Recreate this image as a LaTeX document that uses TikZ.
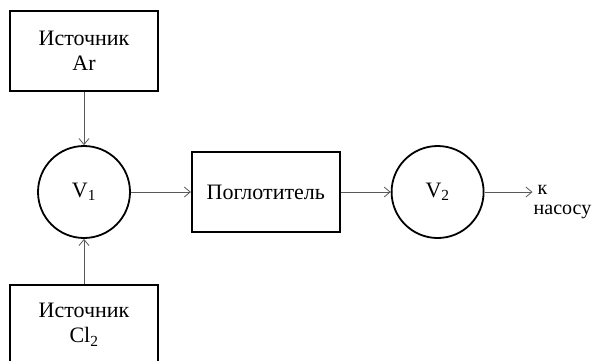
\documentclass[tikz,border=0pt]{standalone}
\usepackage{fontspec}
\setmainfont{Liberation Serif}
\usetikzlibrary{positioning,arrows.meta}

\begin{document}
\begin{tikzpicture}[node distance=50pt and 50pt, font=\fontsize{22}{25}\selectfont,
        box/.style={draw, rectangle, line width=1.8pt, minimum width=148pt, minimum height=80pt, align=center, inner sep=0pt},
        valve/.style={draw, circle, line width=1.8pt, minimum size=92pt, inner sep=0pt},
        flow/.style={-{Straight Barb[length=6pt, width=10pt]}, gray!70!black, line width=0.8pt}]
        \useasboundingbox (0pt,0pt) rectangle (597pt,-360pt);

        \node[valve] (v1) at (84pt,-192pt) {V\textsubscript{1}};
        \node[box, above=53pt of v1] (srcar) {Источник\\Ar};
        \node[box, below=45pt of v1] (srccl) {Источник\\Cl\textsubscript{2}};
        \node[box, right=60pt of v1] (absorber) {Поглотитель};
        \node[valve, right=50pt of absorber] (v2) {V\textsubscript{2}};
        \coordinate[right=48pt of v2] (out);
        % the base anchor sits on the last line
        \node[anchor=base west, align=left, inner sep=0pt, font=\fontsize{20}{20}\selectfont] (pump) at ([xshift=1pt, yshift=-22pt]out) {\hspace{4pt}к\\насосу};

        \draw[flow] (srcar) -- (v1);
        \draw[flow] (srccl) -- (v1);
        \draw[flow] (v1) -- (absorber);
        \draw[flow] (absorber) -- (v2);
        \draw[flow] (v2) -- (out);
    \end{tikzpicture}
\end{document}
